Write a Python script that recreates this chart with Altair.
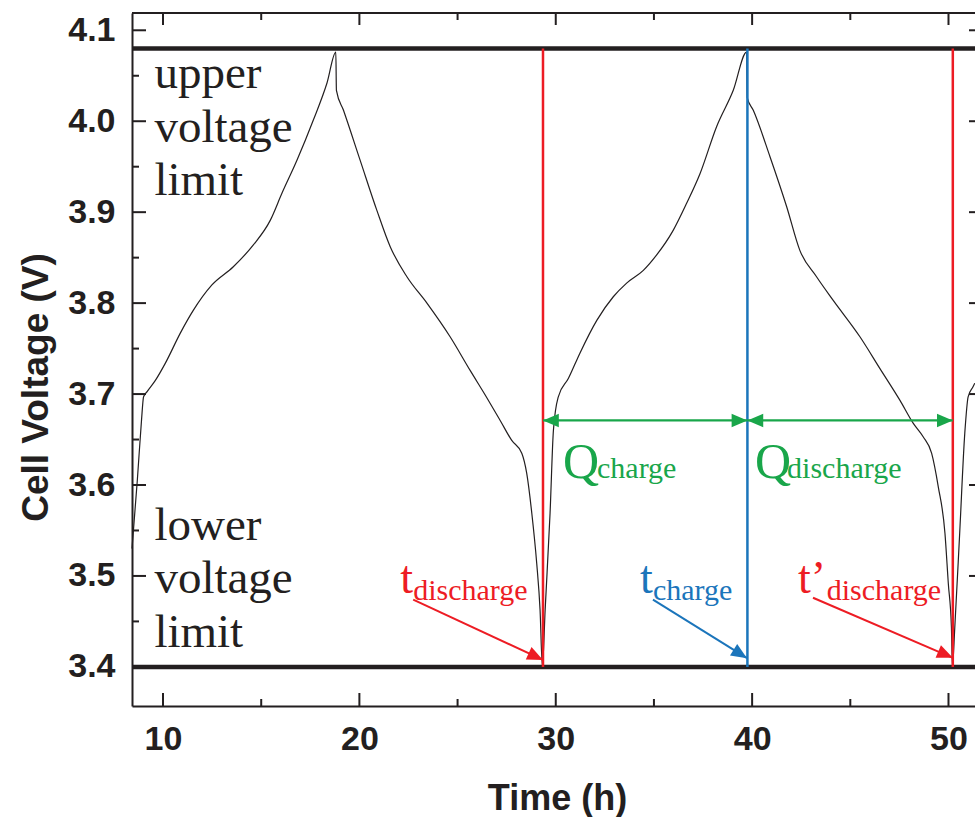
import math
import altair as alt
import pandas as pd

# ---------------- data ----------------
time_h = [8.42, 8.69, 8.90, 9.01, 9.20, 9.61, 10.12, 10.88, 11.54, 12.49, 13.58, 14.60,
          15.46, 16.06, 16.82, 17.65, 18.35, 18.80, 18.83, 19.19, 20.04, 20.89, 21.57,
          22.42, 23.44, 24.62, 25.64, 26.49, 27.17, 27.76, 28.27, 28.52, 28.78, 29.03,
          29.20, 29.32, 29.46, 29.71, 29.88, 30.13, 30.64, 31.23, 32.09, 32.93, 33.61,
          34.46, 35.14, 35.98, 36.67, 37.34, 38.19, 39.04, 39.72, 39.75, 40.06, 40.91,
          41.76, 42.43, 43.28, 44.13, 45.49, 46.51, 47.53, 48.20, 48.71, 49.14, 49.48,
          49.82, 49.99, 50.15, 50.20, 50.32, 50.57, 50.83, 51.00, 51.25, 51.34]
voltage = [3.530, 3.605, 3.670, 3.697, 3.703, 3.715, 3.734, 3.767, 3.792, 3.820, 3.840, 3.864,
           3.891, 3.921, 3.957, 4.001, 4.042, 4.076, 4.034, 4.012, 3.957, 3.902, 3.862,
           3.829, 3.800, 3.763, 3.726, 3.696, 3.671, 3.649, 3.635, 3.613, 3.569, 3.514,
           3.463, 3.400, 3.463, 3.569, 3.660, 3.697, 3.717, 3.745, 3.781, 3.807, 3.822,
           3.836, 3.853, 3.880, 3.910, 3.942, 3.994, 4.034, 4.076, 4.026, 4.012, 3.961,
           3.906, 3.858, 3.829, 3.803, 3.763, 3.728, 3.693, 3.668, 3.653, 3.635, 3.598,
           3.547, 3.492, 3.443, 3.400, 3.443, 3.547, 3.657, 3.697, 3.708, 3.712]

x_ticks_major = [10, 20, 30, 40, 50]
x_ticks_minor = [15, 25, 35, 45]
y_ticks_major = [3.4, 3.5, 3.6, 3.7, 3.8, 3.9, 4.0, 4.1]
y_ticks_minor = [3.45, 3.55, 3.65, 3.75, 3.85, 3.95, 4.05]

upper_limit = 4.08
lower_limit = 3.40

event_times = [29.35, 39.76, 50.22]
event_colors = ["#ed1c24", "#1b75bb", "#ed1c24"]

q_arrow_v = 3.671
q_main = ["Q", "Q"]
q_main_t = [30.37, 40.15]
q_sub = ["charge", "discharge"]
q_sub_t = [32.10, 41.78]
q_v = 3.608

t_main = ["t", "t", "t\u2019"]
t_main_t = [22.08, 34.29, 42.33]
t_main_v = 3.481
t_sub = ["discharge", "charge", "discharge"]
t_sub_t = [22.74, 34.95, 43.80]
t_sub_v = 3.474
t_colors = ["#ed1c24", "#1b75bb", "#ed1c24"]

ptr_t0 = [22.74, 34.95, 43.10]
ptr_v0 = [3.474, 3.474, 3.476]
ptr_t1 = [29.35, 39.74, 50.22]
ptr_v1 = [3.4077, 3.4096, 3.410]

limit_words = ["upper", "voltage", "limit", "lower", "voltage", "limit"]
limit_word_t = [9.56] * 6
limit_word_v = [4.036, 3.977, 3.919, 3.540, 3.481, 3.422]

# ---------------- layout / style ----------------
X_DOMAIN = [8.42, 51.35]
Y_DOMAIN = [3.357, 4.119]
W, H = 843, 693
INK = "#231f20"
GREEN = "#19a64a"
SANS = "Liberation Sans"
SERIF = "Liberation Serif"
ARROW = "M0,0L-1,-0.43L-1,0.43Z"

xs = alt.Scale(domain=X_DOMAIN, nice=False, zero=False)
ys = alt.Scale(domain=Y_DOMAIN, nice=False, zero=False)

x_axis = alt.Axis(values=x_ticks_major, ticks=False, tickSize=0, grid=False, domain=True,
                  domainColor=INK, domainWidth=2, labelFont=SANS, labelFontWeight="bold",
                  labelFontSize=34, labelColor=INK, labelPadding=16, labelFlush=False,
                  labelOverlap=False, title="Time (h)", titleFont=SANS, titleFontWeight="bold",
                  titleFontSize=36, titleColor=INK, titleX=425, titleY=92,
                  titleAlign="center", titleBaseline="middle")
y_axis = alt.Axis(values=y_ticks_major, format=".1f", ticks=False, tickSize=0, grid=False,
                  domain=True, domainColor=INK, domainWidth=2, labelFont=SANS,
                  labelFontWeight="bold", labelFontSize=34, labelColor=INK, labelPadding=17,
                  labelFlush=False, labelOverlap=False, title="Cell Voltage (V)",
                  titleFont=SANS, titleFontWeight="bold", titleFontSize=37, titleColor=INK,
                  titleX=-96, titleY=374, titleAngle=270, titleAlign="center",
                  titleBaseline="middle")


def X(f):
    return alt.X(f"{f}:Q", scale=xs, axis=x_axis)


def Y(f):
    return alt.Y(f"{f}:Q", scale=ys, axis=y_axis)


px_t = W / (X_DOMAIN[1] - X_DOMAIN[0])
px_v = H / (Y_DOMAIN[1] - Y_DOMAIN[0])


def screen_angle(t0, v0, t1, v1):
    dx = (t1 - t0) * px_t
    dy = -(v1 - v0) * px_v
    return math.degrees(math.atan2(dy, dx)) % 360


# ---------------- layers ----------------
curve = alt.Chart(pd.DataFrame({"t": time_h, "v": voltage})).mark_line(
    color=INK, strokeWidth=1.2, interpolate="monotone"
).encode(x=X("t"), y=Y("v"))

limits = alt.Chart(pd.DataFrame({"v": [upper_limit, lower_limit]})).mark_rule(
    color=INK, strokeWidth=4.5
).encode(y=Y("v"), x=alt.value(0), x2=alt.value(W))

events = alt.Chart(pd.DataFrame({"t": event_times, "c": event_colors,
                                 "v0": [lower_limit] * 3, "v1": [upper_limit] * 3})
                   ).mark_rule(strokeWidth=2.5).encode(
    x=X("t"), y=Y("v0"), y2="v1", color=alt.Color("c:N", scale=None))

q_df = pd.DataFrame({"t0": event_times[:2], "t1": event_times[1:], "v": [q_arrow_v] * 2})
q_lines = alt.Chart(q_df).mark_rule(color=GREEN, strokeWidth=2.2).encode(
    x=X("t0"), x2="t1", y=Y("v"))

q_heads_df = pd.DataFrame({
    "t": [event_times[0], event_times[1], event_times[1], event_times[2]],
    "v": [q_arrow_v] * 4,
    "a": [180, 0, 180, 0],
})
q_heads = alt.Chart(q_heads_df).mark_point(shape=ARROW, filled=True, size=1000, opacity=1,
                                           color=GREEN, strokeWidth=0).encode(
    x=X("t"), y=Y("v"), angle=alt.Angle("a:Q", scale=None))

ptr_df = pd.DataFrame({"t0": ptr_t0, "v0": ptr_v0, "t1": ptr_t1, "v1": ptr_v1, "c": t_colors})
ptr_df["a"] = [screen_angle(a, b, c, d) for a, b, c, d in zip(ptr_t0, ptr_v0, ptr_t1, ptr_v1)]
ptr_lines = alt.Chart(ptr_df).mark_rule(strokeWidth=2).encode(
    x=X("t0"), y=Y("v0"), x2="t1", y2="v1", color=alt.Color("c:N", scale=None))
ptr_heads = alt.Chart(ptr_df).mark_point(shape=ARROW, filled=True, size=1000, opacity=1,
                                         strokeWidth=0).encode(
    x=X("t1"), y=Y("v1"), angle=alt.Angle("a:Q", scale=None),
    color=alt.Color("c:N", scale=None))

words = alt.Chart(pd.DataFrame({"t": limit_word_t, "v": limit_word_v, "s": limit_words})
                  ).mark_text(font=SERIF, fontSize=47, color=INK, align="left",
                              baseline="alphabetic").encode(x=X("t"), y=Y("v"), text="s:N")

qm = alt.Chart(pd.DataFrame({"t": q_main_t, "v": [q_v] * 2, "s": q_main})).mark_text(
    font=SERIF, fontSize=50, color=GREEN, align="left", baseline="alphabetic"
).encode(x=X("t"), y=Y("v"), text="s:N")
qs = alt.Chart(pd.DataFrame({"t": q_sub_t, "v": [q_v] * 2, "s": q_sub})).mark_text(
    font=SERIF, fontSize=30, color=GREEN, align="left", baseline="alphabetic"
).encode(x=X("t"), y=Y("v"), text="s:N")

tm = alt.Chart(pd.DataFrame({"t": t_main_t, "v": [t_main_v] * 3, "s": t_main, "c": t_colors})
               ).mark_text(font=SERIF, fontSize=46, align="left", baseline="alphabetic").encode(
    x=X("t"), y=Y("v"), text="s:N", color=alt.Color("c:N", scale=None))
ts = alt.Chart(pd.DataFrame({"t": t_sub_t, "v": [t_sub_v] * 3, "s": t_sub, "c": t_colors})
               ).mark_text(font=SERIF, fontSize=30, align="left", baseline="alphabetic").encode(
    x=X("t"), y=Y("v"), text="s:N", color=alt.Color("c:N", scale=None))

xmaj = pd.DataFrame({"t": x_ticks_major})
xmin = pd.DataFrame({"t": x_ticks_minor})
ymaj = pd.DataFrame({"v": y_ticks_major})
ymin = pd.DataFrame({"v": y_ticks_minor})
tick_style = dict(color=INK, strokeWidth=2)

ticks = [
    alt.Chart(xmaj).mark_rule(**tick_style).encode(x=X("t"), y=alt.value(H), y2=alt.value(H - 13)),
    alt.Chart(xmin).mark_rule(**tick_style).encode(x=X("t"), y=alt.value(H), y2=alt.value(H - 7)),
    alt.Chart(xmaj).mark_rule(**tick_style).encode(x=X("t"), y=alt.value(0), y2=alt.value(12)),
    alt.Chart(xmin).mark_rule(**tick_style).encode(x=X("t"), y=alt.value(0), y2=alt.value(7)),
    alt.Chart(ymaj).mark_rule(**tick_style).encode(y=Y("v"), x=alt.value(0), x2=alt.value(14)),
    alt.Chart(ymin).mark_rule(**tick_style).encode(y=Y("v"), x=alt.value(0), x2=alt.value(7)),
    alt.Chart(ymaj).mark_rule(**tick_style).encode(y=Y("v"), x=alt.value(W - 6), x2=alt.value(W)),
]

top_border = alt.Chart(pd.DataFrame({"k": [0]})).mark_rule(color=INK, strokeWidth=2).encode(
    y=alt.value(0), x=alt.value(0), x2=alt.value(W))

chart = alt.layer(
    curve, limits, events, q_lines, q_heads, ptr_lines, ptr_heads,
    words, qm, qs, tm, ts, *ticks, top_border
).properties(
    width=W, height=H,
    autosize=alt.AutoSizeParams(type="none"),
    padding={"left": 132, "top": 13, "right": 0, "bottom": 111},
).configure_view(stroke=None)

chart.save("out.html", embed_options={"renderer": "svg", "actions": False})
